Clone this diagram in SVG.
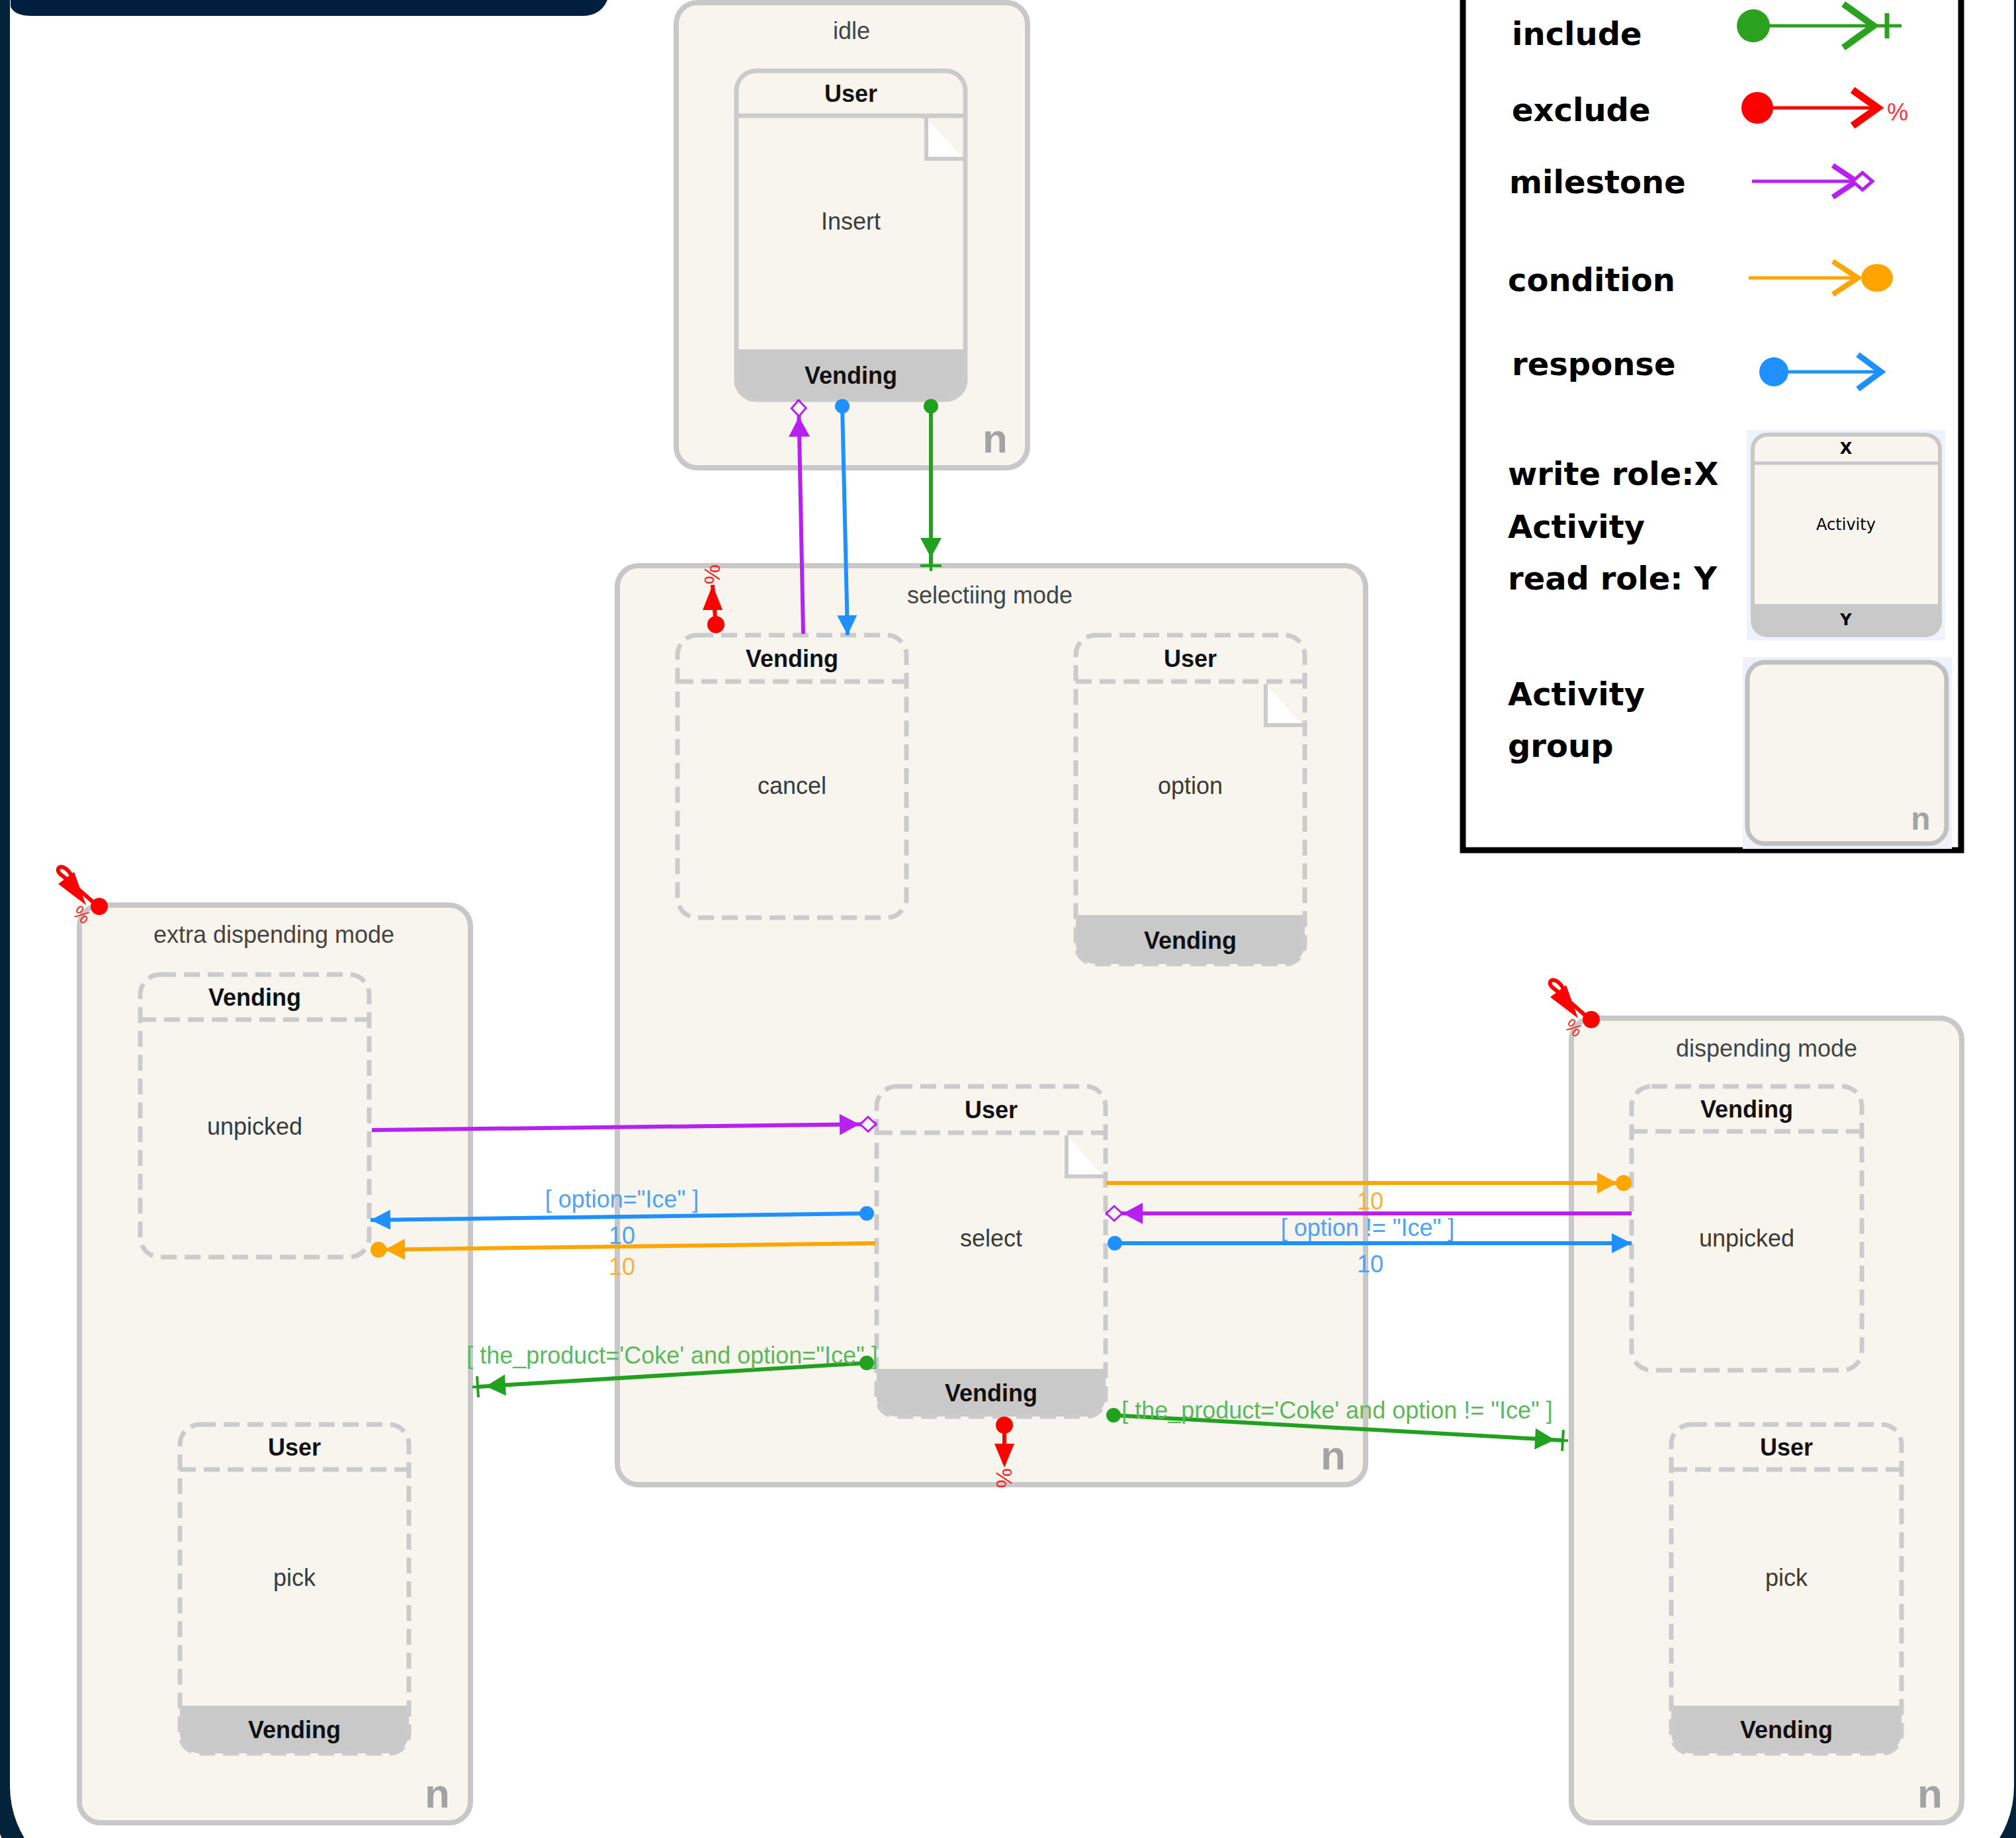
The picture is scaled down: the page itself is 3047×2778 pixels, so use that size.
<svg xmlns="http://www.w3.org/2000/svg" width="3047" height="2778" viewBox="0 0 3047 2778">
<style>
.grp{fill:#f7f5ee;stroke:#c8c8c8;stroke-width:8}
.actf{fill:#f7f5ee;stroke:none}
.foot{fill:#c9c9c9;stroke:none}
.bs{fill:none;stroke:#cbcbcb;stroke-width:7}
.bd{fill:none;stroke:#cbcbcb;stroke-width:7;stroke-dasharray:24 12}
.gl{font-family:"Liberation Sans",Arial,sans-serif;font-size:36px;fill:#444;text-anchor:middle}
.role{font-family:"Liberation Sans",Arial,sans-serif;font-size:36px;font-weight:bold;fill:#111;text-anchor:middle}
.name{font-family:"Liberation Sans",Arial,sans-serif;font-size:36px;fill:#3a3a3a;text-anchor:middle}
.nn{font-family:"Liberation Sans",Arial,sans-serif;font-size:62px;font-weight:bold;fill:#a3a3a3;text-anchor:middle}
.lg{font-family:"DejaVu Sans",Verdana,sans-serif;font-size:48px;font-weight:bold;fill:#000}
.lab{font-family:"Liberation Sans",Arial,sans-serif;font-size:36px;text-anchor:middle}
.note{fill:#fff;stroke:none}
.notel{fill:none;stroke:#cbcbcb;stroke-width:6}
.ln{fill:none;stroke-width:6}
.pct{font-family:"Liberation Sans",Arial,sans-serif;font-size:34px;fill:#ff2020;text-anchor:middle}
</style>
<defs>
<marker id="mResp" markerUnits="userSpaceOnUse" orient="auto" overflow="visible" markerWidth="1" markerHeight="1" refX="0" refY="0">
<path d="M0,0 L-30,-15 L-30,15 Z" fill="#1e90ff"/>
</marker>
<marker id="mCond" markerUnits="userSpaceOnUse" orient="auto" overflow="visible" markerWidth="1" markerHeight="1" refX="0" refY="0">
<circle cx="-12" cy="0" r="12" fill="#ffa500"/>
<path d="M-22,0 L-52,-16 L-52,16 Z" fill="#ffa500"/>
</marker>
<marker id="mMile" markerUnits="userSpaceOnUse" orient="auto" overflow="visible" markerWidth="1" markerHeight="1" refX="0" refY="0">
<path d="M-1,0 L-13,-11 L-25,0 L-13,11 Z" fill="#f7f5ee" stroke="#b620f0" stroke-width="3"/>
<path d="M-26,0 L-56,-16 L-56,16 Z" fill="#b620f0"/>
</marker>
<marker id="mInc" markerUnits="userSpaceOnUse" orient="auto" overflow="visible" markerWidth="1" markerHeight="1" refX="0" refY="0">
<path d="M0,-16 V16 M-14,0 H8" stroke="#22a020" stroke-width="4" fill="none"/>
<path d="M-12,0 L-42,-16 L-42,16 Z" fill="#22a020"/>
</marker>
<marker id="dBlue" markerUnits="userSpaceOnUse" overflow="visible" markerWidth="1" markerHeight="1" refX="0" refY="0">
<circle cx="0" cy="0" r="11" fill="#1e90ff"/>
</marker>
<marker id="dGreen" markerUnits="userSpaceOnUse" overflow="visible" markerWidth="1" markerHeight="1" refX="0" refY="0">
<circle cx="0" cy="0" r="11" fill="#22a020"/>
</marker>
</defs>

<rect x="0" y="0" width="3047" height="2778" fill="#ffffff"/>

<!-- outer frame -->
<g id="frame">
<rect x="0" y="-200" width="3059" height="3065" rx="165" fill="none" stroke="#04233a" stroke-width="30"/>
<path d="M16,0 H918 Q908,24 880,24 H48 Q22,24 16,10 Z" fill="#001f3f"/>
</g>

<!-- groups -->
<g id="g-idle">
<rect class="grp" x="1022" y="4" width="531" height="703" rx="32"/>
<text class="gl" x="1287" y="59">idle</text>
<text class="nn" x="1504" y="684">n</text>
</g>
<g id="g-selecting">
<rect class="grp" x="933" y="855" width="1131" height="1389" rx="32"/>
<text class="gl" x="1496" y="912">selectiing mode</text>
<text class="nn" x="2015" y="2221">n</text>
</g>
<g id="g-extra">
<rect class="grp" x="120" y="1368" width="591" height="1387" rx="32"/>
<text class="gl" x="414" y="1425">extra dispending mode</text>
<text class="nn" x="661" y="2732">n</text>
</g>
<g id="g-dispending">
<rect class="grp" x="2375" y="1539" width="590" height="1216" rx="32"/>
<text class="gl" x="2670" y="1597">dispending mode</text>
<text class="nn" x="2917" y="2732">n</text>
</g>

<!-- activities -->
<g id="a-insert">
<rect class="actf" x="1113" y="107" width="346" height="497" rx="30"/>
<path class="foot" d="M1113,528 H1459 V574 A30,30 0 0 1 1429,604 H1143 A30,30 0 0 1 1113,574 Z"/>
<polygon class="note" points="1400,178 1400,240 1456,240"/>
<polyline class="notel" points="1400,178 1400,240 1456,240"/>
<rect class="bs" x="1113" y="107" width="346" height="497" rx="30"/>
<line class="bs" x1="1113" y1="175" x2="1459" y2="175"/>
<text class="role" x="1286" y="154">User</text>
<text class="name" x="1286" y="347">Insert</text>
<text class="role" x="1286" y="580">Vending</text>
</g>

<g id="a-cancel">
<rect class="actf" x="1024" y="960" width="346" height="427" rx="30"/>
<rect class="bd" x="1024" y="960" width="346" height="427" rx="30"/>
<line class="bd" x1="1024" y1="1030" x2="1370" y2="1030"/>
<text class="role" x="1197" y="1008">Vending</text>
<text class="name" x="1197" y="1200">cancel</text>
</g>

<g id="a-option">
<rect class="actf" x="1626" y="960" width="346" height="497" rx="30"/>
<path class="foot" d="M1626,1383 H1972 V1427 A30,30 0 0 1 1942,1457 H1656 A30,30 0 0 1 1626,1427 Z"/>
<polygon class="note" points="1913,1034 1913,1096 1969,1096"/>
<polyline class="notel" points="1913,1034 1913,1096 1969,1096"/>
<rect class="bd" x="1626" y="960" width="346" height="497" rx="30"/>
<line class="bd" x1="1626" y1="1030" x2="1972" y2="1030"/>
<text class="role" x="1799" y="1008">User</text>
<text class="name" x="1799" y="1200">option</text>
<text class="role" x="1799" y="1434">Vending</text>
</g>

<g id="a-select">
<rect class="actf" x="1325" y="1642" width="346" height="499" rx="30"/>
<path class="foot" d="M1325,2069 H1671 V2111 A30,30 0 0 1 1641,2141 H1355 A30,30 0 0 1 1325,2111 Z"/>
<polygon class="note" points="1612,1716 1612,1778 1668,1778"/>
<polyline class="notel" points="1612,1716 1612,1778 1668,1778"/>
<rect class="bd" x="1325" y="1642" width="346" height="499" rx="30"/>
<line class="bd" x1="1325" y1="1712" x2="1671" y2="1712"/>
<text class="role" x="1498" y="1690">User</text>
<text class="name" x="1498" y="1884">select</text>
<text class="role" x="1498" y="2118">Vending</text>
</g>

<g id="a-unpicked1">
<rect class="actf" x="212" y="1473" width="346" height="427" rx="30"/>
<rect class="bd" x="212" y="1473" width="346" height="427" rx="30"/>
<line class="bd" x1="212" y1="1541" x2="558" y2="1541"/>
<text class="role" x="385" y="1520">Vending</text>
<text class="name" x="385" y="1715">unpicked</text>
</g>

<g id="a-pick1">
<rect class="actf" x="272" y="2153" width="346" height="497" rx="30"/>
<path class="foot" d="M272,2578 H618 V2620 A30,30 0 0 1 588,2650 H302 A30,30 0 0 1 272,2620 Z"/>
<rect class="bd" x="272" y="2153" width="346" height="497" rx="30"/>
<line class="bd" x1="272" y1="2221" x2="618" y2="2221"/>
<text class="role" x="445" y="2200">User</text>
<text class="name" x="445" y="2397">pick</text>
<text class="role" x="445" y="2627">Vending</text>
</g>

<g id="a-unpicked2">
<rect class="actf" x="2466" y="1642" width="348" height="429" rx="30"/>
<rect class="bd" x="2466" y="1642" width="348" height="429" rx="30"/>
<line class="bd" x1="2466" y1="1710" x2="2814" y2="1710"/>
<text class="role" x="2640" y="1689">Vending</text>
<text class="name" x="2640" y="1884">unpicked</text>
</g>

<g id="a-pick2">
<rect class="actf" x="2526" y="2153" width="348" height="497" rx="30"/>
<path class="foot" d="M2526,2578 H2874 V2620 A30,30 0 0 1 2844,2650 H2556 A30,30 0 0 1 2526,2620 Z"/>
<rect class="bd" x="2526" y="2153" width="348" height="497" rx="30"/>
<line class="bd" x1="2526" y1="2221" x2="2874" y2="2221"/>
<text class="role" x="2700" y="2200">User</text>
<text class="name" x="2700" y="2397">pick</text>
<text class="role" x="2700" y="2627">Vending</text>
</g>

<!-- connectors -->
<g id="connectors">
<path class="ln" stroke="#b620f0" d="M1214,958 L1207,604" marker-end="url(#mMile)"/>
<path class="ln" stroke="#1e90ff" d="M1273,614 L1281,960" marker-start="url(#dBlue)" marker-end="url(#mResp)"/>
<path class="ln" stroke="#22a020" d="M1407,614 L1407,855" marker-start="url(#dGreen)" marker-end="url(#mInc)"/>

<g id="ex-cancel" fill="#ff0000">
<path d="M1082,946 L1077,884" stroke="#ff0000" stroke-width="6" fill="none"/>
<circle cx="1082" cy="944" r="13"/>
<path d="M1077,884 L1062,922 L1092,922 Z"/>
<text class="pct" x="1076" y="868" transform="rotate(-90 1076 868)" dy="12">%</text>
</g>

<g id="ex-select" fill="#ff0000">
<path d="M1518,2153 L1518,2212" stroke="#ff0000" stroke-width="6" fill="none"/>
<circle cx="1518" cy="2154" r="13"/>
<path d="M1518,2218 L1503,2182 L1533,2182 Z"/>
<text class="pct" x="1518" y="2234" transform="rotate(90 1518 2234)" dy="12">%</text>
</g>

<g id="ex-extra" fill="#ff0000">
<path d="M148,1370 C120,1345 98,1326 92,1322 C84,1316 88,1306 98,1312 C108,1318 112,1332 118,1348" stroke="#ff0000" stroke-width="6" fill="none"/>
<circle cx="150" cy="1370" r="13"/>
<path d="M130,1368 L88,1336 L112,1318 Z"/>
<text class="pct" x="124" y="1382" fill="#ff6060" style="font-size:28px" transform="rotate(40 124 1382)" dy="10">%</text>
</g>
<g id="ex-dispending" fill="#ff0000" transform="translate(2255,171)">
<path d="M148,1370 C120,1345 98,1326 92,1322 C84,1316 88,1306 98,1312 C108,1318 112,1332 118,1348" stroke="#ff0000" stroke-width="6" fill="none"/>
<circle cx="150" cy="1370" r="13"/>
<path d="M130,1368 L88,1336 L112,1318 Z"/>
<text class="pct" x="124" y="1382" fill="#ff6060" style="font-size:28px" transform="rotate(40 124 1382)" dy="10">%</text>
</g>

<path class="ln" stroke="#b620f0" d="M562,1708 L1325,1699" marker-end="url(#mMile)"/>
<path class="ln" stroke="#1e90ff" d="M1310,1834 L560,1844" marker-start="url(#dBlue)" marker-end="url(#mResp)"/>
<path class="ln" stroke="#ffa500" d="M1323,1879 L560,1889" marker-end="url(#mCond)"/>
<path class="ln" stroke="#22a020" d="M1310,2060 L722,2096" marker-start="url(#dGreen)" marker-end="url(#mInc)"/>

<path class="ln" stroke="#ffa500" d="M1672,1788 L2466,1788" marker-end="url(#mCond)"/>
<path class="ln" stroke="#b620f0" d="M2466,1834 L1671,1834" marker-end="url(#mMile)"/>
<path class="ln" stroke="#1e90ff" d="M1685,1879 L2466,1879" marker-start="url(#dBlue)" marker-end="url(#mResp)"/>
<path class="ln" stroke="#22a020" d="M1683,2139 L2362,2177" marker-start="url(#dGreen)" marker-end="url(#mInc)"/>

<text class="lab" x="940" y="1825" fill="#4da3f5">[ option="Ice" ]</text>
<text class="lab" x="940" y="1880" fill="#4da3f5">10</text>
<text class="lab" x="940" y="1927" fill="#f7b13c">10</text>
<text class="lab" x="1016" y="2061" fill="#5cb85c">[ the_product='Coke' and option="Ice" ]</text>
<text class="lab" x="2071" y="1828" fill="#f7b13c">10</text>
<text class="lab" x="2067" y="1868" fill="#4da3f5">[ option != "Ice" ]</text>
<text class="lab" x="2071" y="1923" fill="#4da3f5">10</text>
<text class="lab" x="2021" y="2144" fill="#5cb85c">[ the_product='Coke' and option != "Ice" ]</text>
</g>

<!-- legend -->
<g id="legend">
<rect x="2211" y="-20" width="753" height="1305" fill="#ffffff" stroke="#000" stroke-width="9"/>
<text class="lg" x="2285" y="68">include</text>
<text class="lg" x="2285" y="183">exclude</text>
<text class="lg" x="2281" y="292">milestone</text>
<text class="lg" x="2279" y="440">condition</text>
<text class="lg" x="2285" y="567">response</text>
<text class="lg" x="2279" y="733">write role:X</text>
<text class="lg" x="2279" y="813">Activity</text>
<text class="lg" x="2279" y="891">read role: Y</text>
<text class="lg" x="2279" y="1066">Activity</text>
<text class="lg" x="2279" y="1144">group</text>

<g id="lg-include">
<line x1="2650" y1="39" x2="2874" y2="39" stroke="#2aa11f" stroke-width="5"/>
<circle cx="2650" cy="39" r="25" fill="#2aa11f"/>
<polyline points="2786,6 2832,39 2786,72" fill="none" stroke="#2aa11f" stroke-width="10"/>
<line x1="2852" y1="20" x2="2852" y2="58" stroke="#2aa11f" stroke-width="7"/>
</g>
<g id="lg-exclude">
<line x1="2656" y1="163" x2="2836" y2="163" stroke="#ff0000" stroke-width="5"/>
<circle cx="2656" cy="163" r="24" fill="#ff0000"/>
<polyline points="2800,136 2838,163 2800,190" fill="none" stroke="#ff0000" stroke-width="11"/>
<text x="2852" y="182" font-family="Liberation Sans,Arial,sans-serif" font-size="36" fill="#ff3030">%</text>
</g>
<g id="lg-milestone">
<line x1="2648" y1="274" x2="2800" y2="274" stroke="#b620f0" stroke-width="5"/>
<polyline points="2770,250 2806,274 2770,298" fill="none" stroke="#b620f0" stroke-width="8"/>
<path d="M2800,274 L2815,261 L2830,274 L2815,287 Z" fill="#fff" stroke="#b620f0" stroke-width="5"/>
</g>
<g id="lg-condition">
<line x1="2643" y1="420" x2="2812" y2="420" stroke="#ffa500" stroke-width="5"/>
<polyline points="2770,395 2808,420 2770,445" fill="none" stroke="#ffa500" stroke-width="8"/>
<ellipse cx="2837" cy="420" rx="24" ry="21" fill="#ffa500"/>
</g>
<g id="lg-response">
<line x1="2681" y1="562" x2="2840" y2="562" stroke="#1e90ff" stroke-width="5"/>
<circle cx="2681" cy="562" r="22" fill="#1e90ff"/>
<polyline points="2808,536 2843,562 2808,588" fill="none" stroke="#1e90ff" stroke-width="9"/>
</g>

<g id="lg-activity">
<rect x="2640" y="650" width="300" height="318" fill="#eef3fb"/>
<rect x="2649" y="657" width="283" height="303" rx="22" fill="#f7f5ee"/>
<path d="M2649,913 H2932 V938 A22,22 0 0 1 2910,960 H2671 A22,22 0 0 1 2649,938 Z" fill="#c9c9c9"/>
<rect x="2649" y="657" width="283" height="303" rx="22" fill="none" stroke="#c8c8c8" stroke-width="6"/>
<line x1="2649" y1="700" x2="2932" y2="700" stroke="#c8c8c8" stroke-width="5"/>
<text x="2790" y="686" font-family="DejaVu Sans,Verdana,sans-serif" font-size="24" font-weight="bold" text-anchor="middle" fill="#000">X</text>
<text x="2790" y="801" font-family="DejaVu Sans,Verdana,sans-serif" font-size="24" text-anchor="middle" fill="#000">Activity</text>
<text x="2790" y="945" font-family="DejaVu Sans,Verdana,sans-serif" font-size="24" font-weight="bold" text-anchor="middle" fill="#000">Y</text>
</g>
<g id="lg-group">
<rect x="2634" y="993" width="316" height="290" fill="#eef3fb"/>
<rect x="2641" y="1001" width="301" height="274" rx="26" fill="#f7f5ee" stroke="#c0c0c0" stroke-width="7"/>
<text x="2903" y="1254" font-family="Liberation Sans,Arial,sans-serif" font-size="48" font-weight="bold" fill="#a3a3a3" text-anchor="middle">n</text>
</g>
</g>
</svg>
